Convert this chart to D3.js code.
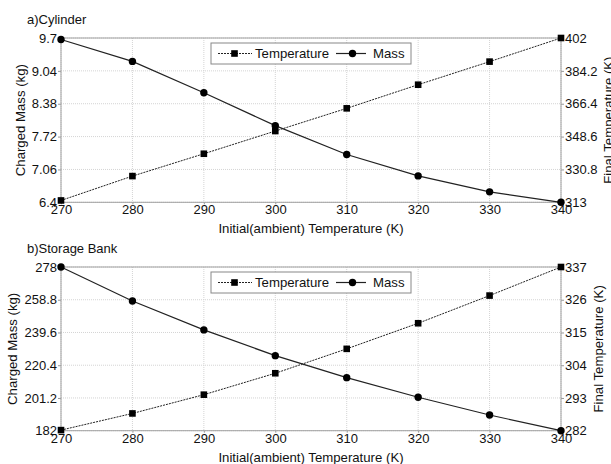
<!DOCTYPE html>
<html><head><meta charset="utf-8">
<script src="https://cdn.jsdelivr.net/npm/d3@7"></script>
<style>body{margin:0;background:#fff}svg{display:block;font-family:"Liberation Sans",Arial,sans-serif}</style>
</head><body>
<svg id="c" width="611" height="464"></svg>
<script>
const xValues = [270, 280, 290, 300, 310, 320, 330, 340];
const xTicks = [270, 280, 290, 300, 310, 320, 330, 340];

const cylMass = [9.67, 9.23, 8.60, 7.94, 7.36, 6.93, 6.61, 6.40];
const cylTemp = [314.0, 327.2, 339.3, 351.6, 363.9, 376.7, 389.2, 402.0];
const cylMassTicks = ["6.4", "7.06", "7.72", "8.38", "9.04", "9.7"];
const cylTempTicks = ["313", "330.8", "348.6", "366.4", "384.2", "402"];

const bankMass = [278.0, 258.1, 241.1, 226.0, 213.1, 201.6, 191.2, 182.0];
const bankTemp = [282.2, 287.8, 294.1, 301.3, 309.5, 318.1, 327.4, 337.0];
const bankMassTicks = ["182", "201.2", "220.4", "239.6", "258.8", "278"];
const bankTempTicks = ["282", "293", "304", "315", "326", "337"];

const titles = ["a)Cylinder", "b)Storage Bank"];
const xLabel = "Initial(ambient) Temperature (K)";
const yLeftLabel = "Charged Mass (kg)";
const yRightLabel = "Final Temperature (K)";
const legendLabels = ["Temperature", "Mass"];

const svg = d3.select("#c");
const L = 61, R = 561;
const tickFs = "13px", labFs = "13.2px";

function panel(top, bottom, title, mass, temp, mTicks, tTicks, leftLabX, rightLabX) {
  const g = svg.append("g");
  const x = d3.scaleLinear().domain([270, 340]).range([L, R]);
  const mt = mTicks.map(Number), tt = tTicks.map(Number);
  const yL = d3.scaleLinear().domain([mt[0], mt[mt.length-1]]).range([bottom, top]);
  const yR = d3.scaleLinear().domain([tt[0], tt[tt.length-1]]).range([bottom, top]);

  // grid
  g.append("g").selectAll("line").data(xTicks).join("line")
    .attr("x1", d => x(d)).attr("x2", d => x(d)).attr("y1", top).attr("y2", bottom)
    .attr("stroke", "#d4d4d4").attr("stroke-dasharray", "1,1").attr("stroke-width", 1);
  g.append("g").selectAll("line").data(mt).join("line")
    .attr("x1", L).attr("x2", R).attr("y1", d => yL(d)).attr("y2", d => yL(d))
    .attr("stroke", "#d4d4d4").attr("stroke-dasharray", "1,1").attr("stroke-width", 1);

  // axes
  const ax = g.append("g").attr("transform", `translate(0,${bottom})`)
    .call(d3.axisBottom(x).tickValues(xTicks).tickSize(2).tickPadding(2).tickFormat(d3.format("d")));
  const ayl = g.append("g").attr("transform", `translate(${L},0)`)
    .call(d3.axisLeft(yL).tickValues(mt).tickSize(3).tickPadding(1).tickFormat((d,i) => mTicks[i]));
  const ayr = g.append("g").attr("transform", `translate(${R},0)`)
    .call(d3.axisRight(yR).tickValues(tt).tickSize(3).tickPadding(1).tickFormat((d,i) => tTicks[i]));
  [ax, ayl, ayr].forEach(a => {
    a.select(".domain").remove();
    a.selectAll(".tick line").attr("stroke", "#999");
    a.selectAll("text").attr("font-size", tickFs).attr("fill", "#111").attr("font-family", "Liberation Sans, Arial, sans-serif");
  });
  ax.selectAll("text").attr("dy", "0.62em");
  // box
  g.append("rect").attr("x", L).attr("y", top).attr("width", R - L).attr("height", bottom - top)
    .attr("fill", "none").attr("stroke", "#a0a0a0").attr("stroke-width", 1);

  // lines
  const lineT = d3.line().x((d, i) => x(xValues[i])).y(d => yR(d));
  const lineM = d3.line().x((d, i) => x(xValues[i])).y(d => yL(d));
  g.append("path").datum(temp).attr("d", lineT).attr("fill", "none")
    .attr("stroke", "#222").attr("stroke-width", 1).attr("stroke-dasharray", "2,1");
  g.append("path").datum(mass).attr("d", lineM).attr("fill", "none")
    .attr("stroke", "#222").attr("stroke-width", 1.2);
  g.append("g").selectAll("rect").data(temp).join("rect")
    .attr("x", (d, i) => x(xValues[i]) - 3.3).attr("y", d => yR(d) - 3.3)
    .attr("width", 6.6).attr("height", 6.6).attr("fill", "#000");
  g.append("g").selectAll("circle").data(mass).join("circle")
    .attr("cx", (d, i) => x(xValues[i])).attr("cy", d => yL(d)).attr("r", 3.7).attr("fill", "#000");

  // legend
  const lx = 211, ly = top + 5, lw = 200, lh = 21;
  const lg = g.append("g");
  lg.append("rect").attr("x", lx).attr("y", ly).attr("width", lw).attr("height", lh)
    .attr("fill", "#fff").attr("stroke", "#888").attr("stroke-width", 1);
  const cy = ly + lh / 2;
  lg.append("line").attr("x1", lx + 7).attr("x2", lx + 41).attr("y1", cy).attr("y2", cy)
    .attr("stroke", "#222").attr("stroke-dasharray", "2,1");
  lg.append("rect").attr("x", lx + 23.5 - 3.3).attr("y", cy - 3.3).attr("width", 6.6).attr("height", 6.6).attr("fill", "#000");
  lg.append("text").attr("x", lx + 44).attr("y", cy).attr("dy", "0.35em").attr("font-size", labFs).attr("fill", "#111").text(legendLabels[0]);
  lg.append("line").attr("x1", lx + 125).attr("x2", lx + 155).attr("y1", cy).attr("y2", cy)
    .attr("stroke", "#222").attr("stroke-width", 1.2);
  lg.append("circle").attr("cx", lx + 141.5).attr("cy", cy).attr("r", 3.7).attr("fill", "#000");
  lg.append("text").attr("x", lx + 162).attr("y", cy).attr("dy", "0.35em").attr("font-size", labFs).attr("fill", "#111").text(legendLabels[1]);

  // labels
  g.append("text").attr("x", 27).attr("y", top - 14).attr("font-size", "13px").attr("fill", "#111").text(title);
  g.append("text").attr("x", (L + R) / 2).attr("y", bottom + 31).attr("text-anchor", "middle")
    .attr("font-size", labFs).attr("fill", "#111").text(xLabel);
  g.append("text").attr("transform", `translate(${leftLabX},${(top + bottom) / 2}) rotate(-90)`)
    .attr("text-anchor", "middle").attr("dy", "0.35em").attr("font-size", labFs).attr("fill", "#111").text(yLeftLabel);
  g.append("text").attr("transform", `translate(${rightLabX},${(top + bottom) / 2}) rotate(-90)`)
    .attr("text-anchor", "middle").attr("dy", "0.35em").attr("font-size", labFs).attr("fill", "#111").text(yRightLabel);
}

panel(38, 202.3, titles[0], cylMass, cylTemp, cylMassTicks, cylTempTicks, 20, 608);
panel(267, 430.7, titles[1], bankMass, bankTemp, bankMassTicks, bankTempTicks, 12, 598);
</script>
</body></html>
